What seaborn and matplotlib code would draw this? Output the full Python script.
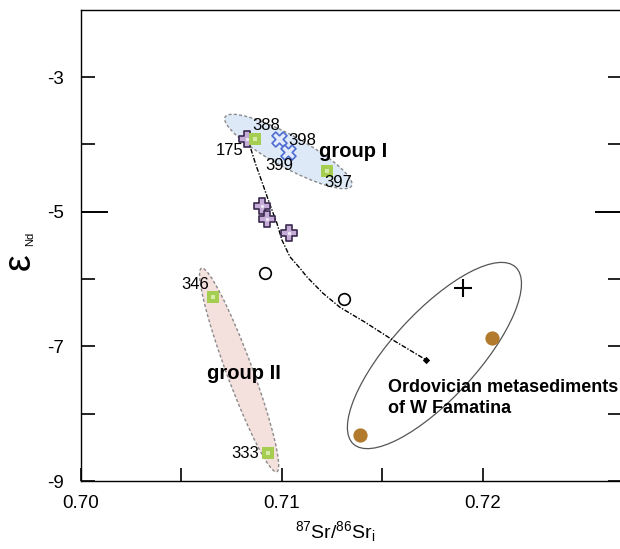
import matplotlib
matplotlib.use("Agg")
import matplotlib.pyplot as plt
import matplotlib.transforms as mtransforms
from matplotlib.patches import Ellipse
from matplotlib.ticker import FixedLocator, FixedFormatter
import seaborn as sns

# ---------------- data ----------------
# green squares (labelled samples)
sq_ids = ["388", "397", "346", "333"]
sq_sr = [0.70866, 0.71223, 0.70658, 0.70932]
sq_nd = [-3.92, -4.40, -6.26, -8.58]

# blue crosses (X)
x_ids = ["398", "399"]
x_sr = [0.70987, 0.71032]
x_nd = [-3.92, -4.11]

# purple plus symbols
plus_ids = ["175", "", "", ""]
plus_sr = [0.70825, 0.70900, 0.70924, 0.71037]
plus_nd = [-3.92, -4.91, -5.11, -5.31]

# open circles
open_sr = [0.70916, 0.71311]
open_nd = [-5.91, -6.29]

# thin black cross
cross_sr = [0.71903]
cross_nd = [-6.14]

# Ordovician metasediments (brown dots)
meta_sr = [0.72044, 0.71389]
meta_nd = [-6.88, -8.31]

# mixing curve
mix_sr = [0.70831, 0.70871, 0.70901, 0.70941, 0.70975, 0.71000, 0.71040,
          0.71090, 0.71125, 0.71204, 0.71289, 0.71413, 0.71538, 0.71717]
mix_nd = [-3.93, -4.31, -4.56, -4.90, -5.17, -5.42, -5.67,
          -5.84, -5.97, -6.21, -6.42, -6.64, -6.88, -7.20]

# label offsets for sample numbers (pixels)
label_offsets = {"388": (11, 14), "397": (12, -11), "346": (-18, 12),
                 "333": (-23, -1), "398": (23, -1), "399": (-9, -14),
                 "175": (-17, -11)}

# axis settings
x_lim = (0.70, 0.7269)
y_lim = (-9.0, -2.0)
x_ticks = [0.700, 0.705, 0.710, 0.715, 0.720]
x_ticklabels = ["0.70", "", "0.71", "", "0.72"]
y_major = [-9, -8, -7, -6, -4, -3]
y_major_labels = ["-9", "", "-7", "", "", "-3"]
y_minor = [-5]
y_minor_labels = ["-5"]

# ---------------- style ----------------
sns.set_style("ticks")
plt.rcParams["font.family"] = ["Liberation Sans", "DejaVu Sans"]
plt.rcParams["mathtext.fontset"] = "custom"
plt.rcParams["mathtext.rm"] = "Liberation Sans"
plt.rcParams["mathtext.it"] = "Liberation Sans:italic"
plt.rcParams["mathtext.bf"] = "Liberation Sans:bold"
for key in ("text.color", "axes.labelcolor", "xtick.color", "ytick.color",
            "axes.edgecolor"):
    plt.rcParams[key] = "black"

W, H = 620, 549
fig = plt.figure(figsize=(W / 100, H / 100), dpi=100, facecolor="white")
ax_l, ax_r, ax_t, ax_b = 81, 621.5, 9.8, 481
ax = fig.add_axes([ax_l / W, 1 - ax_b / H, (ax_r - ax_l) / W, (ax_b - ax_t) / H])
ax.set_xlim(*x_lim)
ax.set_ylim(*y_lim)


def field(center, w, h, angle, **kw):
    """Ellipse sized in pixels, centred on a data point."""
    tr = mtransforms.Affine2D() + mtransforms.ScaledTranslation(
        center[0], center[1], ax.transData)
    e = Ellipse((0, 0), w, h, angle=angle, transform=tr, **kw)
    ax.add_patch(e)
    return e


# fields
field((0.71032, -4.105), 144, 32, -28.6, facecolor="#dde9f7",
      edgecolor="#8a8a8a", lw=1.0, ls=(0, (2.2, 1.6)), zorder=1)
field((0.70787, -7.351), 217, 26, -69.7, facecolor="#f4e0dd",
      edgecolor="#8a8a8a", lw=1.0, ls=(0, (2.2, 1.6)), zorder=1)
field((0.71759, -7.136), 240, 86, 47.5, facecolor="none",
      edgecolor="#555555", lw=0.9, zorder=1)

# mixing curve
sns.lineplot(x=mix_sr, y=mix_nd, sort=False, estimator=None, color="black",
             lw=1.0, linestyle=(0, (3.5, 1.2, 1.0, 1.2)), ax=ax, zorder=2)
sns.scatterplot(x=mix_sr[-1:], y=mix_nd[-1:], marker="D", s=14,
                color="black", linewidth=0, ax=ax, zorder=3)

# symbols
sns.scatterplot(x=meta_sr, y=meta_nd, marker="o", s=105, color="#b17a2d",
                linewidth=0, ax=ax, zorder=4)
sns.scatterplot(x=open_sr, y=open_nd, marker="o", s=70, facecolor="white",
                edgecolor="black", linewidth=1.2, ax=ax, zorder=4)
sns.scatterplot(x=cross_sr, y=cross_nd, marker="+", s=160, color="black",
                linewidth=1.5, ax=ax, zorder=4)
sns.scatterplot(x=plus_sr, y=plus_nd, marker="P", s=135, facecolor="#c5add8",
                edgecolor="#3b2a4f", linewidth=1.2, ax=ax, zorder=5)
sns.scatterplot(x=plus_sr, y=plus_nd, marker="o", s=6, color="#f1e9f6",
                linewidth=0, ax=ax, zorder=6)
sns.scatterplot(x=x_sr, y=x_nd, marker="X", s=115, facecolor="#e2eafb",
                edgecolor="#4d6cd0", linewidth=1.2, ax=ax, zorder=5)
sns.scatterplot(x=sq_sr, y=sq_nd, marker="s", s=75, color="#a5cd4f",
                linewidth=0, ax=ax, zorder=5)
sns.scatterplot(x=sq_sr, y=sq_nd, marker="s", s=9, color="#d6ebaa",
                linewidth=0, ax=ax, zorder=6)

# sample numbers
for ids, xs, ys in ((sq_ids, sq_sr, sq_nd), (x_ids, x_sr, x_nd),
                    (plus_ids, plus_sr, plus_nd)):
    for lab, xv, yv in zip(ids, xs, ys):
        if not lab:
            continue
        dx, dy = label_offsets[lab]
        ax.annotate(lab, (xv, yv), xytext=(dx, dy), textcoords="offset pixels",
                    ha="center", va="center", fontsize=12, zorder=7)

# field names
ax.text(0.71354, -4.10, "group I", fontsize=14.5, fontweight="bold",
        ha="center", va="center", zorder=7)
ax.text(0.70811, -7.40, "group II", fontsize=14.5, fontweight="bold",
        ha="center", va="center", zorder=7)
ax.text(0.71526, -7.49, "Ordovician metasediments\nof W Famatina",
        fontsize=13, fontweight="bold", ha="left", va="top",
        linespacing=1.3, zorder=7)

# axes styling
for side in ("top", "bottom", "left", "right"):
    ax.spines[side].set_linewidth(1.0)
    ax.spines[side].set_color("black")

ax.xaxis.set_major_locator(FixedLocator(x_ticks))
ax.xaxis.set_major_formatter(FixedFormatter(x_ticklabels))
ax.yaxis.set_major_locator(FixedLocator(y_major))
ax.yaxis.set_major_formatter(FixedFormatter(y_major_labels))
ax.yaxis.set_minor_locator(FixedLocator(y_minor))
ax.yaxis.set_minor_formatter(FixedFormatter(y_minor_labels))

ax.tick_params(axis="x", which="major", direction="in", length=9.4,
               width=1.2, labelsize=13.5, pad=10, top=False)
ax.tick_params(axis="y", which="major", direction="in", length=9.8,
               width=1.2, labelsize=13.5, pad=12, left=True, right=True)
ax.tick_params(axis="y", which="minor", direction="in", length=19.4,
               width=1.4, labelsize=13.5, pad=12, left=True, right=True)
ax.tick_params(axis="x", which="minor", bottom=False, top=False)

# axis titles
ax.set_xlabel(r"$^{87}$Sr/$^{86}$Sr$_{\mathregular{i}}$", fontsize=14)
ax.xaxis.label.set_va("center")
ax.xaxis.set_label_coords((335 - ax_l) / (ax_r - ax_l), -(532 - ax_b) / (ax_b - ax_t))
ax.set_ylabel("")
fig.text(20 / W, 1 - 262 / H, "\u03b5", rotation=90, fontsize=27,
         ha="center", va="center")
fig.text(30 / W, 1 - 239 / H, "Nd", rotation=90, fontsize=8,
         ha="center", va="center")

fig.savefig("out.png", dpi=100, facecolor="white")
